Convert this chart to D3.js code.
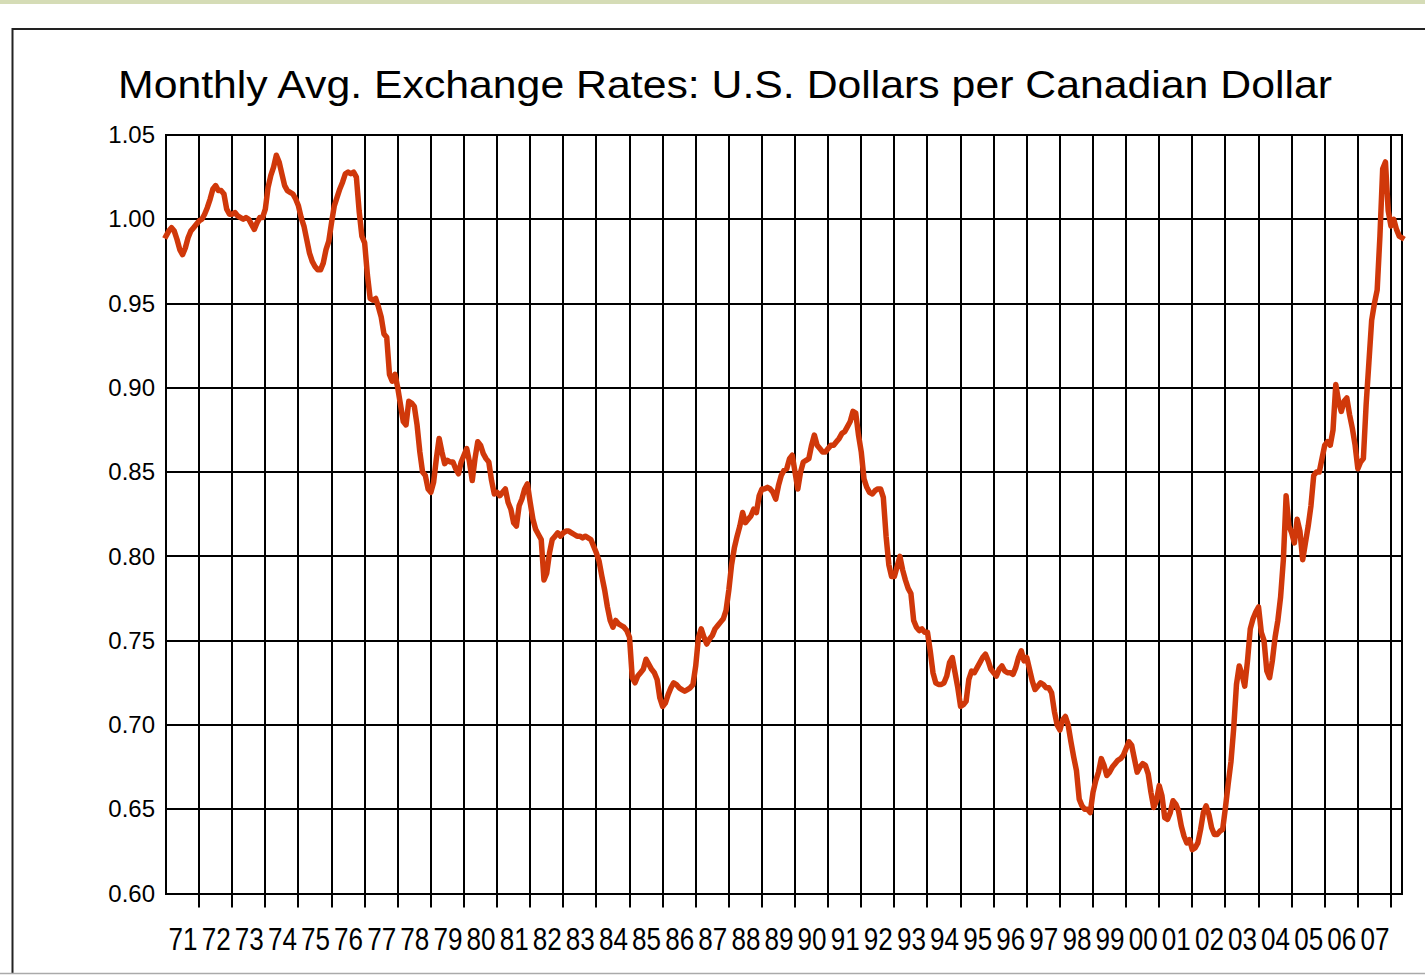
<!DOCTYPE html>
<html><head><meta charset="utf-8">
<script src="https://cdn.jsdelivr.net/npm/d3@7"></script>
<style>html,body{margin:0;padding:0;background:#fff;} svg{display:block;}</style>
</head><body>
<svg id="chart" width="1425" height="975"></svg>
<script>
const chartTitle = "Monthly Avg. Exchange Rates: U.S. Dollars per Canadian Dollar";
const startYear = 1971;
const yearLabels = ["71","72","73","74","75","76","77","78","79","80","81","82","83","84","85","86","87","88","89","90","91","92","93","94","95","96","97","98","99","00","01","02","03","04","05","06","07"];
const yTickValues = [0.60, 0.65, 0.70, 0.75, 0.80, 0.85, 0.90, 0.95, 1.00, 1.05];

// Monthly averages, Jan 1971 onward
const rates1970s = [
  0.990, 0.993, 0.995, 0.993, 0.988, 0.982, 0.979, 0.983, 0.989, 0.993, 0.995, 0.997,
  0.999, 1.000, 1.003, 1.007, 1.012, 1.018, 1.020, 1.017, 1.017, 1.015, 1.006, 1.003,
  1.003, 1.004, 1.002, 1.001, 1.000, 1.001, 1.000, 0.997, 0.994, 0.998, 1.001, 1.001,
  1.006, 1.019, 1.026, 1.031, 1.038, 1.034, 1.027, 1.020, 1.017, 1.016, 1.015, 1.012,
  1.008, 1.001, 0.996, 0.988, 0.980, 0.975, 0.972, 0.970, 0.970, 0.974, 0.982, 0.987,
  0.998, 1.008, 1.013, 1.018, 1.022, 1.027, 1.028, 1.027, 1.028, 1.025, 1.005, 0.990,
  0.986, 0.967, 0.953, 0.952, 0.953, 0.948, 0.942, 0.932, 0.930, 0.908, 0.904, 0.908,
  0.900, 0.890, 0.880, 0.878, 0.892, 0.891, 0.889, 0.878, 0.862, 0.850, 0.848, 0.840,
  0.838, 0.844, 0.858, 0.870, 0.862, 0.855, 0.857, 0.856, 0.856, 0.852, 0.849, 0.856
];
const rates1980s = [
  0.860, 0.864, 0.856, 0.845, 0.858, 0.868, 0.866, 0.861, 0.858, 0.856, 0.845, 0.837,
  0.838, 0.836, 0.838, 0.840, 0.832, 0.828, 0.820, 0.818, 0.830, 0.834, 0.840, 0.843,
  0.832, 0.822, 0.816, 0.813, 0.810, 0.786, 0.790, 0.802, 0.810, 0.812, 0.814, 0.812,
  0.814, 0.815, 0.815, 0.814, 0.813, 0.812, 0.812, 0.811, 0.812, 0.811, 0.810, 0.806,
  0.802, 0.797, 0.788, 0.780, 0.770, 0.762, 0.758, 0.762, 0.760, 0.759, 0.758, 0.756,
  0.752, 0.728, 0.725, 0.729, 0.731, 0.733, 0.739, 0.736, 0.733, 0.731, 0.727, 0.716,
  0.711, 0.713, 0.718, 0.722, 0.725, 0.724, 0.722, 0.721, 0.720, 0.721, 0.722, 0.724,
  0.735, 0.752, 0.757, 0.752, 0.748, 0.751, 0.753, 0.757, 0.759, 0.761, 0.763, 0.768,
  0.780, 0.795, 0.805, 0.812, 0.818, 0.826, 0.820, 0.822, 0.824, 0.828, 0.826, 0.836,
  0.840, 0.840, 0.841, 0.840, 0.838, 0.834, 0.842, 0.848, 0.851, 0.852, 0.858, 0.860
];
const rates1990s = [
  0.850, 0.840, 0.850, 0.856, 0.857, 0.858, 0.866, 0.872, 0.866, 0.864, 0.862, 0.862,
  0.864, 0.866, 0.866, 0.868, 0.870, 0.873, 0.874, 0.877, 0.880, 0.886, 0.885, 0.872,
  0.862, 0.846, 0.841, 0.838, 0.837, 0.839, 0.840, 0.840, 0.835, 0.812, 0.795, 0.788,
  0.788, 0.794, 0.800, 0.792, 0.786, 0.781, 0.778, 0.762, 0.758, 0.756, 0.757, 0.755,
  0.755, 0.744, 0.731, 0.725, 0.724, 0.724, 0.725, 0.729, 0.737, 0.740, 0.731, 0.722,
  0.711, 0.712, 0.714, 0.727, 0.732, 0.731, 0.734, 0.737, 0.740, 0.742, 0.738, 0.733,
  0.731, 0.729, 0.733, 0.735, 0.732, 0.731, 0.731, 0.730, 0.734, 0.740, 0.744, 0.738,
  0.740, 0.733, 0.726, 0.721, 0.723, 0.725, 0.724, 0.722, 0.722, 0.719, 0.708, 0.700,
  0.697, 0.703, 0.705, 0.700, 0.690, 0.681, 0.673, 0.656, 0.652, 0.650, 0.650, 0.648,
  0.660, 0.667, 0.672, 0.680, 0.676, 0.670, 0.672, 0.675, 0.677, 0.679, 0.680, 0.682
];
const rates2000s = [
  0.686, 0.690, 0.688, 0.680, 0.672, 0.675, 0.677, 0.676, 0.671, 0.660, 0.651, 0.655,
  0.664, 0.658, 0.645, 0.644, 0.648, 0.655, 0.653, 0.649, 0.640, 0.634, 0.630, 0.632,
  0.626, 0.627, 0.630, 0.638, 0.648, 0.652, 0.647, 0.639, 0.635, 0.635, 0.637, 0.638,
  0.651, 0.665, 0.678, 0.698, 0.724, 0.735, 0.730, 0.723, 0.738, 0.757, 0.763, 0.767,
  0.770, 0.755, 0.750, 0.732, 0.728, 0.738, 0.752, 0.762, 0.776, 0.798, 0.836, 0.818,
  0.814, 0.808, 0.822, 0.815, 0.798, 0.808, 0.818, 0.830, 0.848, 0.850, 0.850, 0.858,
  0.866, 0.868, 0.866, 0.875, 0.902, 0.892, 0.886, 0.892, 0.894, 0.884, 0.876, 0.866,
  0.852, 0.856, 0.858, 0.890, 0.915, 0.940, 0.950, 0.958, 0.990, 1.030, 1.034, 1.005,
  0.996, 1.000, 0.994, 0.990, 0.989
];

const rates = [].concat(rates1970s, rates1980s, rates1990s, rates2000s);
const data = rates.map((v, i) => ({ t: startYear + i / 12, v }));

const svg = d3.select("#chart");
const W = 1425, H = 975;
const plot = { left: 166, right: 1402, top: 135, bottom: 893.5 };
const lineColor = "#d0380a";
const font = "'Liberation Sans', Arial, Helvetica, sans-serif";

const x = d3.scaleLinear()
  .domain([startYear, startYear + (rates.length - 1) / 12])
  .range([plot.left, plot.right]);
const y = d3.scaleLinear().domain([0.60, 1.05]).range([plot.bottom, plot.top]);

// page decorations
svg.append("rect").attr("x", 0).attr("y", 0).attr("width", W).attr("height", 4).attr("fill", "#d5dcb6");
svg.append("path").attr("d", `M12.5,974 V29 H${W}`).attr("fill", "none").attr("stroke", "#222").attr("stroke-width", 2);
svg.append("line").attr("x1", 0).attr("x2", W).attr("y1", 973.5).attr("y2", 973.5).attr("stroke", "#aaa").attr("stroke-width", 1.5);

// title
svg.append("text")
  .attr("x", 118).attr("y", 98)
  .attr("textLength", 1214).attr("lengthAdjust", "spacingAndGlyphs")
  .attr("font-family", font).attr("font-size", 39).attr("fill", "#000")
  .text(chartTitle);

const yearBounds = d3.range(startYear + 1, startYear + yearLabels.length + 1);

// gridlines
const grid = svg.append("g").attr("stroke", "#000").attr("stroke-width", 2);
grid.selectAll("line.h").data(yTickValues).join("line").attr("class", "h")
  .attr("x1", plot.left).attr("x2", plot.right)
  .attr("y1", d => Math.round(y(d))).attr("y2", d => Math.round(y(d)));
grid.selectAll("line.v").data(yearBounds).join("line").attr("class", "v")
  .attr("x1", d => Math.round(x(d))).attr("x2", d => Math.round(x(d)))
  .attr("y1", plot.top).attr("y2", plot.bottom + 14);
svg.append("rect")
  .attr("x", plot.left).attr("y", Math.round(y(1.05)))
  .attr("width", plot.right - plot.left).attr("height", Math.round(y(0.60)) - Math.round(y(1.05)))
  .attr("fill", "none").attr("stroke", "#000").attr("stroke-width", 2);

// y axis labels
const yAxis = svg.append("g")
  .attr("transform", `translate(${plot.left},0)`)
  .call(d3.axisLeft(y).tickValues(yTickValues).tickFormat(d3.format(".2f")).tickSize(0).tickPadding(11));
yAxis.select(".domain").remove();
yAxis.selectAll("text").attr("font-family", font).attr("font-size", 24).attr("fill", "#000");

// x axis labels (centered in each year interval)
const xAxis = svg.append("g")
  .attr("transform", `translate(0,${plot.bottom})`)
  .call(d3.axisBottom(x)
    .tickValues(yearLabels.map((d, i) => startYear + i + 0.5))
    .tickFormat((d, i) => yearLabels[i]).tickSize(0).tickPadding(56));
xAxis.select(".domain").remove();
xAxis.selectAll("text")
  .attr("font-family", font).attr("font-size", 32).attr("fill", "#000")
  .attr("textLength", 29).attr("lengthAdjust", "spacingAndGlyphs")
  .attr("dy", "0");

// data line
const line = d3.line().x(d => x(d.t)).y(d => y(d.v)).curve(d3.curveLinear);
svg.append("path").datum(data)
  .attr("d", line)
  .attr("fill", "none").attr("stroke", lineColor)
  .attr("stroke-width", 5.5).attr("stroke-linejoin", "round").attr("stroke-linecap", "square");
</script>
</body></html>
